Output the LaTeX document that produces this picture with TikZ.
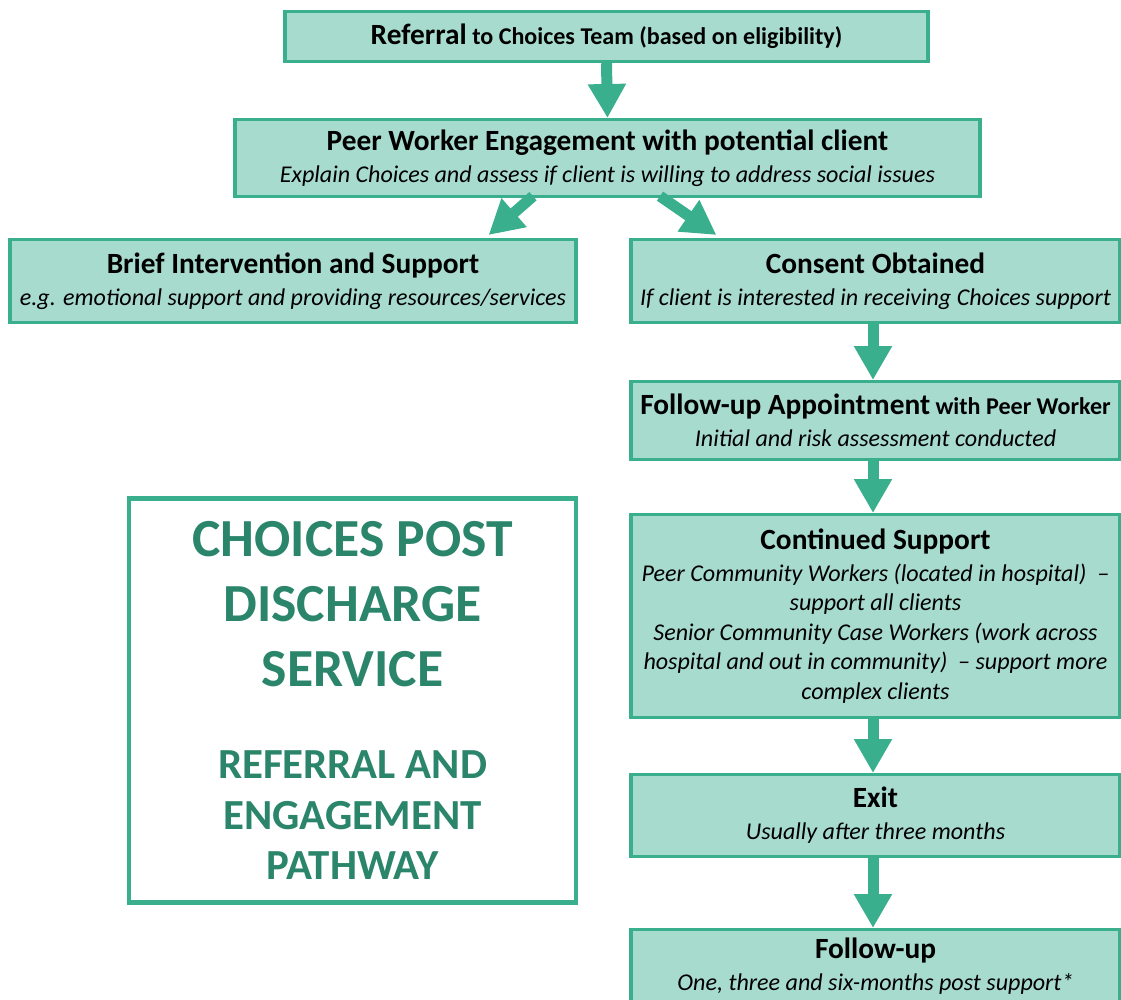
\documentclass[tikz,border=0pt]{standalone}
\usepackage{fontspec}
\setmainfont{Carlito}
\usetikzlibrary{positioning, calc, arrows.meta}
\definecolor{choicesGreen}{RGB}{58, 175, 142}
\definecolor{choicesFill}{RGB}{167, 219, 205}
\definecolor{choicesDark}{RGB}{42, 133, 106}
\newcommand{\lHead}[1]{{\fontsize{16.7}{17}\selectfont\bfseries #1}}
\newcommand{\lSmall}[1]{{\fontsize{13.7}{17}\selectfont\bfseries #1}}
\newcommand{\lSub}[1]{{\itshape #1}}

\begin{document}
\begin{tikzpicture} [
        stage/.style={draw=choicesGreen, line width=1.8pt, fill=choicesFill, anchor=north, align=center, inner sep=2pt, font=\fontsize{13.7}{16.8}\selectfont},
        right col/.style={stage, minimum width=9.78cm},
        title box/.style={draw=choicesGreen, line width=2.7pt, fill=white, anchor=north, align=center, minimum width=8.94cm, minimum height=8.08cm, text=choicesDark, font=\fontsize{30.5}{37}\selectfont\bfseries},
        flow/.style={draw=choicesGreen, line width=0.22cm, -{Triangle[length=0.68cm, width=0.72cm]}, color=choicesGreen}
    ]

    \useasboundingbox (0,0) rectangle (22.42,-20);

    \node[stage, minimum width=12.86cm, minimum height=1.0cm] (referral) at (12.13,-0.2) {\lHead{Referral} \lSmall{to Choices Team (based on eligibility)}};
    \node[stage, minimum width=14.9cm, minimum height=1.54cm] (peer) at (12.15,-2.36) {\lHead{Peer Worker Engagement with potential client}\\[1.4pt] \lSub{Explain Choices and assess if client is willing to address social issues}};
    \node[stage, minimum width=11.32cm, minimum height=1.66cm] (brief) at (5.86,-4.76) {\lHead{Brief Intervention and Support}\\[1.4pt] \lSub{e.g. emotional support and providing resources/services}};

    \node[right col, minimum height=1.66cm] (consent) at (17.51,-4.76) {\lHead{Consent Obtained}\\[1.4pt] \lSub{If client is interested in receiving Choices support}};
    \node[right col, minimum height=1.56cm] (appointment) at (17.51,-7.6) {\lHead{Follow-up Appointment} \lSmall{with Peer Worker}\\[1.4pt] \lSub{Initial and risk assessment conducted}};
    \node[right col, minimum height=4.06cm] (continued) at (17.51,-10.26) {\lHead{Continued Support}\\[1.4pt]
        \lSub{Peer Community Workers (located in hospital)\ \ --}\\ \lSub{support all clients}\\
        \lSub{Senior Community Case Workers (work across}\\ \lSub{hospital and out in community)\ \ -- support more}\\ \lSub{complex clients}};
    \node[right col, minimum height=1.64cm] (exit) at (17.51,-15.46) {\lHead{Exit}\\[1.4pt] \lSub{Usually after three months}};
    \node[right col, minimum height=1.48cm] (followup) at (17.51,-18.56) {\lHead{Follow-up}\\[1.4pt] \lSub{One, three and six-months post support*}};

    \node[title box] (title) at (7.05,-9.92) {CHOICES POST\\ DISCHARGE\\ SERVICE\\[15.4pt]
        {\fontsize{24.4}{28.5}\selectfont REFERRAL AND}\\[-8.5pt] {\fontsize{24.4}{28.5}\selectfont ENGAGEMENT}\\[-8.5pt] {\fontsize{24.4}{28.5}\selectfont PATHWAY}};

    % arrows between the stages
    \draw[flow] (referral.south) -- (peer.north);
    \draw[flow] ([xshift=-1.49cm, yshift=0.04cm]peer.south) -- ([xshift=-1.78cm, yshift=0.06cm]brief.north east);
    \draw[flow] ([xshift=1.05cm, yshift=0.04cm]peer.south) -- ([xshift=1.74cm, yshift=0.06cm]consent.north west);
    \foreach \from/\to in {consent/appointment, appointment/continued, continued/exit, exit/followup} {
        \draw[flow] ([xshift=-0.05cm]\from.south) -- ([xshift=-0.05cm]\to.north);
    }

\end{tikzpicture}
\end{document}
